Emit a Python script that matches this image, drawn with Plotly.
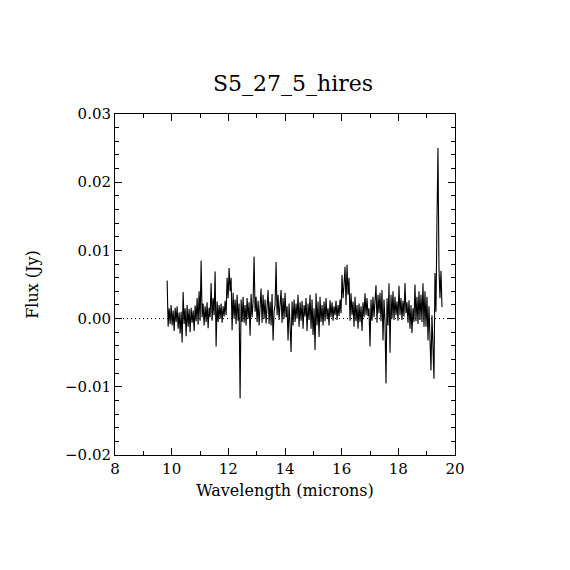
import numpy as np
import plotly.graph_objects as go

# spectrum, flux in mJy, one sample per screen pixel
wl_start = 9.84
wl_end = 19.54
flux_mjy = [
    5.6, -1.2, 1.5, -0.8,
    2.0, -1.0, 1.2, -1.8, 1.6, -0.5, 1.8, -1.5, 0.9, -2.2,
    1.0, -3.5, 3.9, -0.8, 1.5, -2.6, 2.0, -1.2, 1.4, -2.0,
    1.6, -0.6, 1.2, -1.8, 1.9, -0.4, 3.0, -0.9, 4.0, -0.3,
    8.5, 0.2, 2.2, -1.0, 1.8, -0.5, 2.4, -1.4, 1.6, 0.2,
    5.2, -0.3, 3.0, 0.5, 6.9, -4.1, 2.5, -0.5, 2.0, 0.0,
    2.2, -0.6, 1.8, 0.3, 2.6, 0.5, 6.0, 3.0, 7.4, 4.0,
    6.0, -1.7, 3.8, 0.0, 2.8, -0.8, 3.5, -0.3, 2.2, -11.7,
    2.8, -0.5, 3.2, -0.6, 2.0, -1.0, 3.0, 0.0, 2.4, -2.5,
    3.6, 0.2, 2.5, 9.1, 1.0, 3.2, -0.5, 2.6, -1.0, 2.2,
    4.4, -0.6, 3.5, 0.0, 2.8, -0.7, 1.5, 4.2, -0.8, 2.5,
    -1.0, 3.6, -3.2, 1.0, 2.0, 8.3, 0.5, 3.5, -0.2, 2.0,
    4.2, -0.6, 3.0, 0.0, 3.8, 0.2, 1.8, -3.2, 2.2, -1.0,
    -4.9, 2.5, -1.0, 2.8, -0.5, 2.2, 0.0, 3.5, -1.2, 2.4,
    -0.3, 2.6, -1.5, 2.0, 0.3, 3.0, -1.8, 2.2, -0.2, 3.5,
    -1.5, 2.8, -2.4, 1.5, -4.6, 3.7, -1.0, 2.5, -2.7, 3.2,
    -0.5, 2.0, -1.0, 2.5, -0.4, 3.0, 0.0, 1.5, -1.0, 2.7,
    0.2, 2.4, -0.3, 1.8, 0.5, 2.6, -0.2, 2.0, 0.4, 2.8,
    0.8, 6.4, 3.0, 5.0, 7.6, 2.0, 7.9, 3.5, 6.0, -0.3,
    3.7, 0.5, 2.5, -1.2, 3.2, -0.4, 2.0, -1.5, 2.2, -0.5,
    1.8, -1.8, 2.4, 0.2, 3.7, 0.5, 3.0, 0.4, 1.5, -4.1,
    2.8, -0.3, 3.2, 0.2, 2.0, 4.9, -0.6, 3.5, 0.8, 3.8,
    -0.4, 4.2, -3.2, 2.8, -0.5, -9.5, 3.0, -1.0, 5.2, -5.0,
    3.5, 0.0, 4.0, -0.2, 3.2, 0.5, 2.5, -0.3, 4.8, 0.5,
    3.0, -0.2, 2.6, 0.3, 5.2, 0.8, 2.4, -0.6, 2.7, -1.5,
    2.0, -2.1, 1.5, -0.5, 5.0, -0.4, 3.2, -0.8, 4.0, -0.2,
    3.5, -0.5, 5.2, -1.2, 4.0, -1.2, 3.2, -3.2, 1.8, -2.5,
    -7.6, 0.5, -4.2, -8.8, 6.7, 1.0, 14.5, 25.0, 7.4, 3.0,
    7.0, 1.7,
]

x_range = [8, 20]
y_range = [-0.02, 0.03]
x_ticks = [8, 10, 12, 14, 16, 18, 20]
y_ticks = [-0.02, -0.01, 0.0, 0.01, 0.02, 0.03]

wavelength = np.linspace(wl_start, wl_end, len(flux_mjy))
flux = np.array(flux_mjy) / 1000.0

font = "DejaVu Serif"

fig = go.Figure()
fig.add_trace(go.Scatter(x=x_range, y=[0, 0], mode="lines",
                         line=dict(color="black", width=1, dash="1px,3px"),
                         hoverinfo="skip"))
fig.add_trace(go.Scatter(x=wavelength, y=flux, mode="lines",
                         line=dict(color="black", width=1.1)))

axis_common = dict(showgrid=False, zeroline=False, showline=True,
                   linecolor="black", linewidth=1, mirror="allticks",
                   ticks="inside", tickcolor="black", ticklen=7,
                   tickfont=dict(family=font, size=15, color="black"))

fig.update_xaxes(range=x_range, tickvals=x_ticks,
                 minor=dict(ticks="inside", dtick=1, ticklen=4, tickcolor="black"),
                 title=dict(text="Wavelength (microns)", standoff=7,
                            font=dict(family=font, size=16, color="black")),
                 **axis_common)
fig.update_yaxes(range=y_range, tickvals=y_ticks, tickformat=".2f",
                 minor=dict(ticks="inside", dtick=0.002, ticklen=4, tickcolor="black"),
                 title=dict(text="Flux (Jy)", standoff=22,
                            font=dict(family=font, size=16, color="black")),
                 **axis_common)

# page body adds ~8px offset, so the margins are shifted to put the frame where the reference has it
fig.update_layout(
    width=570, height=570,
    margin=dict(l=107, r=123, t=106, b=123),
    paper_bgcolor="white", plot_bgcolor="white",
    showlegend=False,
    title=dict(text="S5_27_5_hires", x=0.5, xanchor="center",
               y=1 - 75 / 570, yanchor="middle",
               font=dict(family=font, size=22, color="black")),
)

fig.write_html("out.html")
